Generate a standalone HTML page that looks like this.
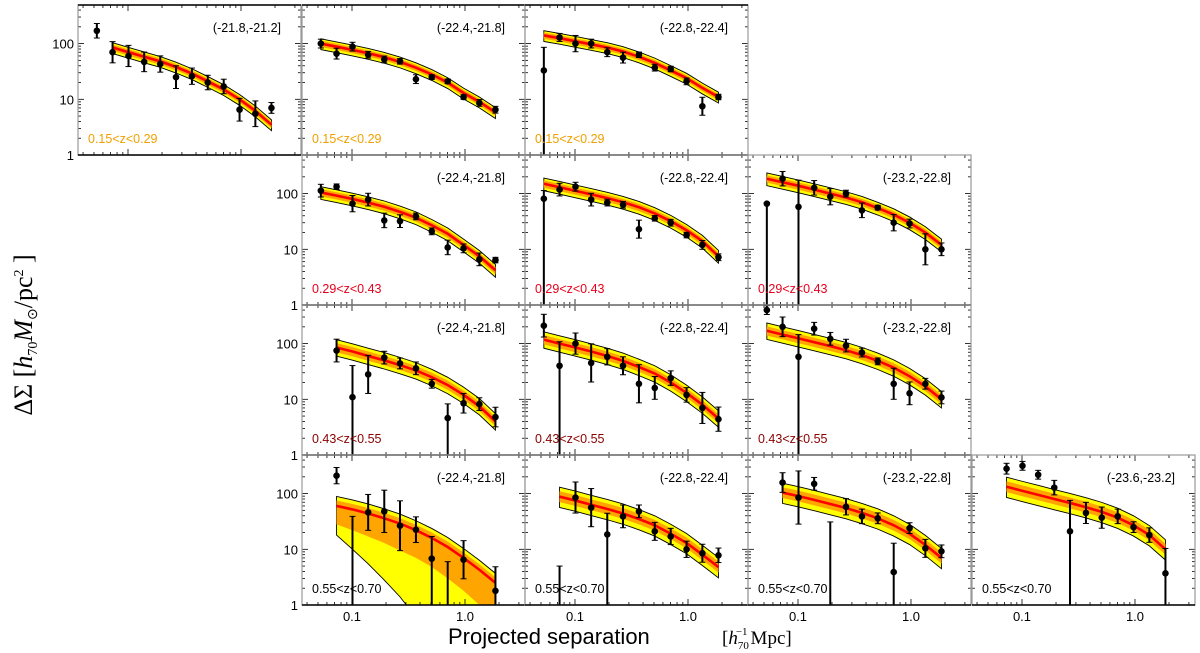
<!DOCTYPE html>
<html><head><meta charset="utf-8">
<style>
html,body{margin:0;padding:0;background:#fff;overflow:hidden;width:1200px;height:653px;}
svg{display:block;}
text{font-family:"Liberation Sans","DejaVu Sans",sans-serif;}
</style></head>
<body>
<svg id="chart" width="1200" height="653" viewBox="0 0 1200 653" xmlns="http://www.w3.org/2000/svg">
<g id="panels"></g>
<text x="448" y="644" font-size="22" fill="#000">Projected separation</text>
<text x="722" y="644" font-size="19" fill="#000" style="font-family:'Liberation Serif',serif">[<tspan font-style="italic">h</tspan><tspan font-size="11" dy="5">70</tspan><tspan font-size="11" dx="-13" dy="-14">−1</tspan><tspan dy="9" dx="3">Mpc]</tspan></text>
<g transform="translate(32,335) rotate(-90)">
<text x="0" y="0" font-size="26" text-anchor="middle" fill="#000" style="font-family:'Liberation Serif',serif">ΔΣ  [<tspan font-style="italic">h</tspan><tspan font-size="14" dy="5">70</tspan><tspan font-style="italic" dy="-5">M</tspan><tspan font-size="14" dy="5">⊙</tspan><tspan dy="-5">/pc</tspan><tspan font-size="14" dy="-9">2</tspan><tspan dy="9"> ]</tspan></text>
</g>
</svg>
<script>
// ---- data ----
const xBins = [0.053,0.073,0.101,0.139,0.193,0.266,0.368,0.508,0.703,0.971,1.34,1.86];
const panelRows = [0,0,0,1,1,1,2,2,2,3,3,3,3];
const panelCols = [0,1,2,1,2,3,1,2,3,1,2,3,4];
const magLabels = ["(-21.8,-21.2]","(-22.4,-21.8]","(-22.8,-22.4]","(-22.4,-21.8]","(-22.8,-22.4]","(-23.2,-22.8]","(-22.4,-21.8]","(-22.8,-22.4]","(-23.2,-22.8]","(-22.4,-21.8]","(-22.8,-22.4]","(-23.2,-22.8]","(-23.6,-23.2]"];
const zLabels = ["0.15<z<0.29","0.29<z<0.43","0.43<z<0.55","0.55<z<0.70"];
const yTicks = [1,10,100];
const yTickLabels = ["1","10","100"];
const xTicks = [0.1,1.0];
const xTickLabels = ["0.1","1.0"];
// measured points (null = no point)
const pts0 = [170,70,60,47,43,25,26,20,17,6.5,5.5,7];
const pts1 = [100,66,88,63,52,48,23,25,21,11,8.6,6.5];
const pts2 = [33,129,100,100,70,56,63,37,35,21,7.5,11];
const pts3 = [113,133,66,78,33,32,39,21,10.8,10.4,6.6,6.4];
const pts4 = [81,118,133,78,69,63,23,36,30,18,12,7.2];
const pts5 = [66,185,58,127,88,100,50,56,30,29,10,10];
const pts6 = [null,75,10.9,28,56,44,36,19,4.6,8.5,8.2,4.8];
const pts7 = [210,40,100,45,58,40,19,16,24,12,7,4.4];
const pts8 = [400,200,58,185,122,92,69,48,19,12.8,19,10.8];
const pts9 = [null,210,0.5,46,48,26.5,22.5,6.8,0.5,6.5,null,1.8];
const pts10 = [null,0.5,85,56,18.5,39,48,21,17,10,8.5,7.8];
const pts11 = [null,158,85,150,0.5,58,39,36,3.9,24,10.4,9.2];
const pts12 = [null,280,315,218,128,21,45,37,39,25,18,3.7];
// error factors: hi = v*|f|, lo = v/f (negative f => lower bar to axis)
const err0 = [1.35,1.55,1.55,1.5,1.4,1.6,1.4,1.35,1.35,1.6,1.7,1.25];
const err1 = [1.2,1.25,1.2,1.15,1.15,1.12,1.2,1.1,1.1,1.1,1.15,1.15];
const err2 = [-2.6,1.18,1.4,1.2,1.2,1.25,1.12,1.15,1.12,1.15,1.45,1.12];
const err3 = [1.3,1.12,1.4,1.3,1.35,1.3,1.15,1.15,1.35,1.2,1.3,1.12];
const err4 = [-1.4,1.3,1.2,1.3,1.15,1.15,1.45,1.12,1.15,1.12,1.2,1.15];
const err5 = [-1.05,1.35,-3,1.35,1.4,1.15,1.35,1.1,1.4,1.2,1.9,1.3];
const err6 = [null,1.6,-3.7,2.2,1.3,1.25,1.3,1.2,-1.8,1.5,1.3,1.5];
const err7 = [1.6,-2.7,1.55,2.2,1.4,1.45,2.2,1.6,1.35,1.35,1.9,1.65];
const err8 = [1.2,1.5,-2.5,1.3,1.3,1.3,1.2,1.15,1.9,1.6,1.25,1.3];
const err9 = [null,1.4,-78,2.1,2.4,2.8,1.7,-2.5,-12,2.2,null,-2.7];
const err10 = [null,-10,1.9,2.2,-2.4,1.6,1.3,1.45,1.4,1.4,1.45,1.35];
const err11 = [null,1.5,3.0,1.3,-62,1.4,1.35,1.25,-3.3,1.25,1.45,1.3];
const err12 = [null,1.25,1.2,1.2,1.35,-3.6,1.55,1.55,1.35,1.25,1.35,-2.8];
// best-fit model values at xBins
const mod0 = [null,85,70,58,48,38,29,21,15,10,6.2,3.5];
const mod1 = [100,88,77,67,57,47,37,28,20,13,9,5.8];
const mod2 = [140,125,110,97,85,72,58,45,33,24,16,11];
const mod3 = [105,92,80,69,58,47,37,27,19,12,7.5,4.2];
const mod4 = [150,130,112,97,83,70,57,44,32,22,14,7.5];
const mod5 = [185,160,138,118,100,85,70,55,42,30,20,12];
const mod6 = [null,85,72,60,50,41,33,25,18,12,7.5,4];
const mod7 = [118,100,85,72,60,49,38,29,20,13,8,4.5];
const mod8 = [170,145,124,106,90,76,62,49,37,26,17,10];
const mod9 = [null,60,52,44,36,29,22,16,11,7,4.3,2.5];
const mod10 = [null,88,75,63,53,44,35,27,19,13,8,4.8];
const mod11 = [null,104,90,77,65,55,45,36,27,19,12,7];
const mod12 = [null,133,112,95,80,68,57,47,37,27,18,10];
// special wide lower bands for the 0.55<z<0.70 (-22.4,-21.8] panel
const wideInnerLo = [null,28,22,17,13,9.5,7,4.8,3,1.8,1,0.6];
const wideOuterLo = [null,18,10,5.5,2.8,1.4,0.6,0.25,0.1,0.04,0.02,0.01];

const allPts = [pts0,pts1,pts2,pts3,pts4,pts5,pts6,pts7,pts8,pts9,pts10,pts11,pts12];
const allErr = [err0,err1,err2,err3,err4,err5,err6,err7,err8,err9,err10,err11,err12];
const allMod = [mod0,mod1,mod2,mod3,mod4,mod5,mod6,mod7,mod8,mod9,mod10,mod11,mod12];

// ---- layout (styling) ----
const colLeft = [78,302,525,748,972], rowTop = [5,155,305,455];
const PW = 223, PH = 150, DEC_X = 113, DEC_Y = 55.7;
const zColors = ["#f0a000","#e8001c","#8b0000","#000"];
const bandFac = [[1.22,1.13,0.87,0.78],[1.27,1.15,0.85,0.75],[1.38,1.2,0.82,0.7],[1.48,1.25,0.8,0.64]];
const NS = "http://www.w3.org/2000/svg";
function mk(tag, attrs, parent){const e=document.createElementNS(NS,tag);for(const k in attrs)e.setAttribute(k,attrs[k]);if(parent)parent.appendChild(e);return e;}
function xScale(left,v){return left+50+DEC_X*Math.log10(v/0.1);}
function yScale(bottom,v){return bottom-DEC_Y*Math.log10(v);}

const root = document.getElementById('panels');
for(let p=0;p<13;p++){
  const r=panelRows[p], c=panelCols[p], L=colLeft[c], T=rowTop[r], B=T+PH;
  const g = mk('g',{},root);
  
  
  const cp = mk('clipPath',{id:'cp'+p},g);
  mk('rect',{x:L,y:T,width:PW,height:PH},cp);
  const plot = mk('g',{'clip-path':'url(#cp'+p+')'},g);
  const mod = allMod[p], f = bandFac[r];
  const idx = []; for(let i=0;i<xBins.length;i++) if(mod[i]!==null) idx.push(i);
  function line(fn){return idx.map(i=>[xScale(L,xBins[i]),yScale(B,Math.max(fn(i),1e-4))]);}
  function band(upFn,loFn,fill,stroke,name){
    const up=line(upFn), lo=line(loFn).reverse();
    const el=mk('polygon',{points:up.concat(lo).map(q=>q.join(',')).join(' '),fill:fill,stroke:stroke||'none','stroke-width':stroke?0.9:0},plot);
    
    
  }
  const wide = (p===9);
  band(i=>mod[i]*f[0], i=>wide?wideOuterLo[i]:mod[i]*f[3], '#ffff00', '#000', 'model-outer-band');
  band(i=>mod[i]*f[1], i=>wide?wideInnerLo[i]:mod[i]*f[2], '#ffa500', null, 'model-inner-band');
  const ml = mk('polyline',{points:line(i=>mod[i]).map(q=>q.join(',')).join(' '),fill:'none',stroke:'#ff0000','stroke-width':2.6},plot);
  
  
  // data points
  const pts=allPts[p], er=allErr[p];
  for(let i=0;i<xBins.length;i++){
    if(pts[i]===null) continue;
    const x=xScale(L,xBins[i]), v=pts[i], fe=er[i];
    const hi=v*Math.abs(fe), lo= fe<0 ? 1e-3 : v/fe;
    const eb=mk('line',{x1:x,x2:x,y1:yScale(B,hi),y2:yScale(B,lo),stroke:'#000','stroke-width':2},plot);
    
    
    mk('line',{x1:x-3,x2:x+3,y1:yScale(B,hi),y2:yScale(B,hi),stroke:'#000','stroke-width':1},plot);
    if(fe>0) mk('line',{x1:x-3,x2:x+3,y1:yScale(B,lo),y2:yScale(B,lo),stroke:'#000','stroke-width':1},plot);
    const dot=mk('circle',{cx:x,cy:yScale(B,v),r:3.3,fill:'#000'},plot);
    
    
  }
  // ticks
  for(let d=0;d<3;d++){for(let m=1;m<10;m++){
    const y=yScale(B,Math.pow(10,d)*m); if(y<T) continue;
    const len=m===1?6:3;
    mk('line',{x1:L,x2:L+len,y1:y,y2:y,stroke:'#000','stroke-width':0.8},g);
    mk('line',{x1:L+PW,x2:L+PW-len,y1:y,y2:y,stroke:'#000','stroke-width':0.8},g);
  }}
  for(let d=-2;d<1;d++){for(let m=1;m<10;m++){
    const x=xScale(L,Math.pow(10,d)*m); if(x<L||x>L+PW) continue;
    const len=m===1?6:3;
    mk('line',{x1:x,x2:x,y1:B,y2:B-len,stroke:'#000','stroke-width':0.8},g);
    mk('line',{x1:x,x2:x,y1:T,y2:T+len,stroke:'#000','stroke-width':0.8},g);
  }}
  const fr=mk('rect',{x:L,y:T,width:PW,height:PH,fill:'none',stroke:'#999','stroke-width':1.2},g);
  
  
  mk('line',{x1:L,x2:L+PW,y1:B,y2:B,stroke:'#000','stroke-width':1.5},g);
  if(r===0) mk('line',{x1:L,x2:L+PW,y1:T,y2:T,stroke:'#000','stroke-width':1.5},g);
  const t1=mk('text',{x:L+PW-20,y:T+27,'font-size':12.5,'text-anchor':'end',fill:'#000'},g);
  t1.textContent=magLabels[p];
  
  
  const t2=mk('text',{x:L+10,y:B-12,'font-size':12.5,fill:zColors[r]},g);
  t2.textContent=zLabels[r];
  
  
  if((r===0&&c===0)||(r>0&&c===1)){
    for(let k=0;k<yTicks.length;k++){
      const ty=mk('text',{x:L-4,y:yScale(B,yTicks[k])+5,'font-size':13,'text-anchor':'end',fill:'#000'},g);
      ty.textContent=yTickLabels[k];
      
      
    }
  }
  if(r===3){
    for(let k=0;k<xTicks.length;k++){
      const tx=mk('text',{x:xScale(L,xTicks[k]),y:B+16,'font-size':13,'text-anchor':'middle',fill:'#000'},g);
      tx.textContent=xTickLabels[k];
      
      
    }
  }
}
</script>
</body></html>
